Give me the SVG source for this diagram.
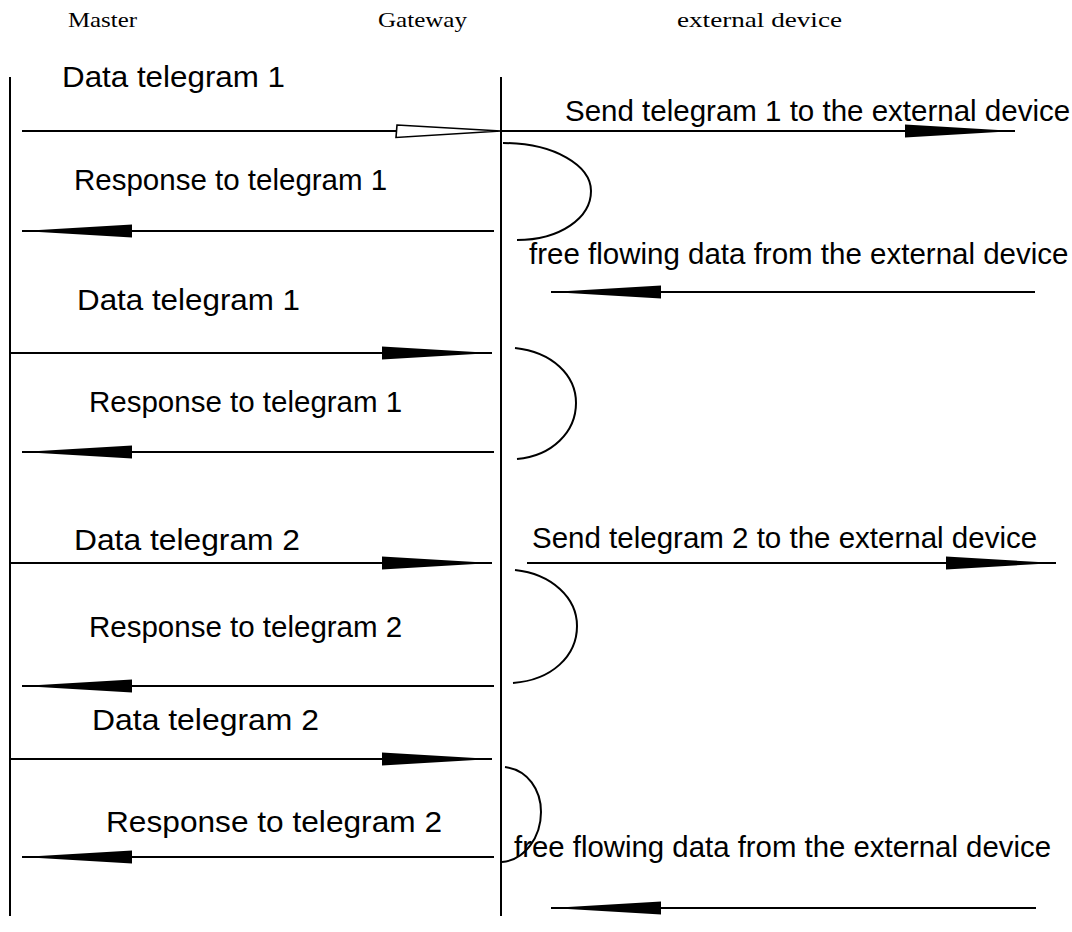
<svg xmlns="http://www.w3.org/2000/svg" width="1072" height="932" viewBox="0 0 1072 932">
<style>
  .hdr { font-family: "Liberation Serif", "Times New Roman", serif; font-size: 22px; fill: #000; }
  .lbl { font-family: "Liberation Sans", Arial, sans-serif; font-size: 29.5px; fill: #000; }
  .life { stroke: #000; stroke-width: 2; fill: none; }
  .msg { stroke: #000; stroke-width: 2; fill: none; marker-end: url(#head); }
  .loop { stroke: #000; stroke-width: 2; fill: none; }
  .open { fill: #fff; stroke: #000; stroke-width: 1.6; }
</style>
<defs>
  <marker id="head" viewBox="0 0 110 16" refX="110" refY="8" markerWidth="110" markerHeight="16" markerUnits="userSpaceOnUse" orient="auto">
    <path d="M0,1.5 L110,8 L0,14.5 Q-1,8 0,1.5 Z" fill="#000"/>
  </marker>
</defs>
<rect width="1072" height="932" fill="#fff"/>

<g id="master">
  <text class="hdr" x="68" y="27" textLength="69" lengthAdjust="spacingAndGlyphs">Master</text>
  <line class="life" x1="10" y1="77" x2="10" y2="916"/>
</g>
<g id="gateway">
  <text class="hdr" x="378" y="27" textLength="89" lengthAdjust="spacingAndGlyphs">Gateway</text>
  <line class="life" x1="501" y1="77" x2="501" y2="916"/>
</g>
<g id="external">
  <text class="hdr" x="677" y="27" textLength="165" lengthAdjust="spacingAndGlyphs">external device</text>
</g>

<g id="labels">
  <text class="lbl" x="62" y="87" textLength="223" lengthAdjust="spacingAndGlyphs">Data telegram 1</text>
  <text class="lbl" x="565" y="121">Send telegram 1 to the external device</text>
  <text class="lbl" x="74" y="190">Response to telegram 1</text>
  <text class="lbl" x="529" y="264">free flowing data from the external device</text>
  <text class="lbl" x="77" y="310" textLength="223" lengthAdjust="spacingAndGlyphs">Data telegram 1</text>
  <text class="lbl" x="89" y="412">Response to telegram 1</text>
  <text class="lbl" x="74" y="550" textLength="226" lengthAdjust="spacingAndGlyphs">Data telegram 2</text>
  <text class="lbl" x="532" y="548">Send telegram 2 to the external device</text>
  <text class="lbl" x="89" y="637">Response to telegram 2</text>
  <text class="lbl" x="92" y="730" textLength="227" lengthAdjust="spacingAndGlyphs">Data telegram 2</text>
  <text class="lbl" x="106" y="832" textLength="336" lengthAdjust="spacingAndGlyphs">Response to telegram 2</text>
  <text class="lbl" x="514" y="857" textLength="537" lengthAdjust="spacingAndGlyphs">free flowing data from the external device</text>
</g>

<g id="connectors">
  <line class="life" x1="22" y1="131" x2="409" y2="131"/>
  <path class="open" d="M397,125 L501,131 L396,137.5 Z"/>
  <line class="msg" x1="501" y1="131" x2="1015" y2="131"/>
  <line class="msg" x1="494" y1="231" x2="22" y2="231"/>
  <line class="msg" x1="1035" y1="292" x2="551" y2="292"/>
  <line class="msg" x1="10" y1="353" x2="492" y2="353"/>
  <line class="msg" x1="494" y1="452" x2="22" y2="452"/>
  <line class="msg" x1="10" y1="563" x2="492" y2="563"/>
  <line class="msg" x1="527" y1="563" x2="1056" y2="563"/>
  <line class="msg" x1="494" y1="686" x2="22" y2="686"/>
  <line class="msg" x1="10" y1="759" x2="492" y2="759"/>
  <line class="msg" x1="494" y1="857" x2="22" y2="857"/>
  <line class="msg" x1="1036" y1="908" x2="551" y2="908"/>
  <path class="loop" d="M503,143 C555,143 591,166 591,191 C591,218 560,240 517,240"/>
  <path class="loop" d="M515,348 C552,352 576,375 576,403 C576,432 552,456 517,459"/>
  <path class="loop" d="M515,570 C552,574 577,598 577,626 C577,656 552,680 513,683"/>
  <path class="loop" d="M505,767 C528,770 541,790 541,812 C541,837 525,860 502,862"/>
</g>
</svg>
